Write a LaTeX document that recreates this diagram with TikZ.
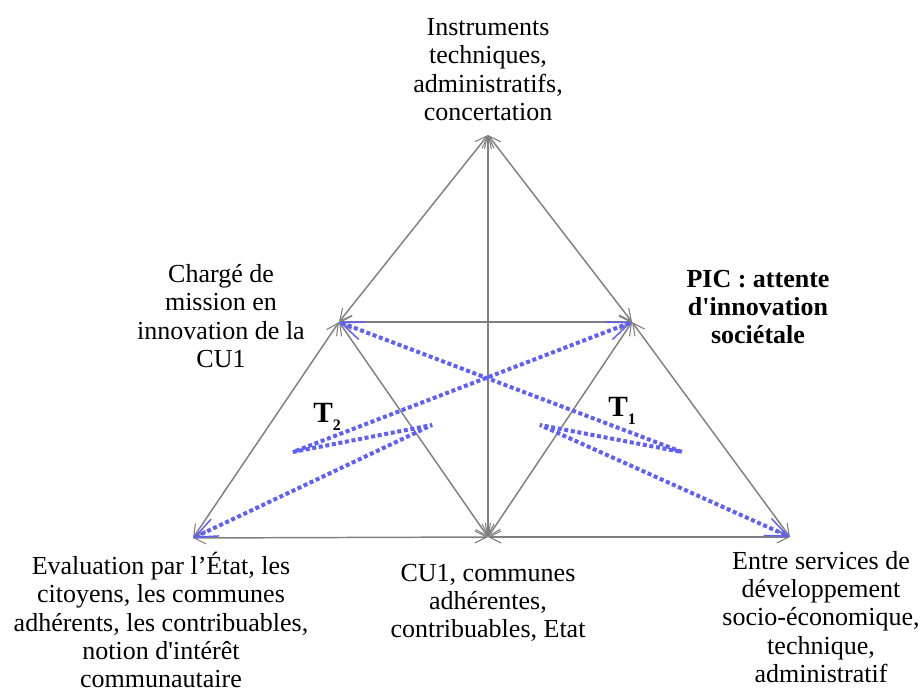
\documentclass[tikz,border=0pt]{standalone}
\usepackage{fontspec}
\setmainfont{Liberation Serif}
\usepackage{xcolor}
\usetikzlibrary{arrows.meta}

\definecolor{lien}{RGB}{128,128,128}
\definecolor{trajet}{RGB}{95,95,250}

\tikzset{
  pole/.style={align=center, inner sep=0pt, font=\fontsize{19.5}{21.2}\selectfont},
  lien/.style={draw=lien, line width=1.1pt, {Straight Barb[length=9pt,width=9pt,line width=0.8pt]}-{Straight Barb[length=9pt,width=9pt,line width=0.8pt]}},
  trajet/.style={draw=trajet, line width=3pt, line join=bevel, dash pattern=on 3pt off 2pt, {Straight Barb[length=17pt,width=14pt,line width=1.1pt]}-{Straight Barb[length=17pt,width=14pt,line width=1.1pt]}},
  etiq/.style={inner sep=0pt, font=\fontsize{22}{24}\selectfont\bfseries}
}
\newcommand{\indice}[1]{\raisebox{-6.5pt}{\fontsize{12}{14}\selectfont #1}}

\begin{document}
\begin{tikzpicture}[x=0.75pt,y=0.75pt,yscale=-1,xscale=1]
\useasboundingbox (0,0) rectangle (923,695);

% sommets du triangle
\coordinate (haut) at (488,135);
\coordinate (milG) at (339,322);
\coordinate (milD) at (632,322);
\coordinate (basG) at (193,538);
\coordinate (basM) at (488,537);
\coordinate (basD) at (790,537);

% points de rebroussement des trajets
\coordinate (t2a) at (293,452);
\coordinate (t2b) at (432,425);
\coordinate (t1a) at (682,452);
\coordinate (t1b) at (540,425);

% liens gris
\draw [lien] (haut) -- (milG);
\draw [lien] (haut) -- (milD);
\draw [lien] (haut) -- (basM);
\draw [lien] (milG) -- (milD);
\draw [lien] (milG) -- (basG);
\draw [lien] (milG) -- (basM);
\draw [lien] (milD) -- (basM);
\draw [lien] (milD) -- (basD);
\draw [lien] (basG) -- (basM);
\draw [lien] (basD) -- (basM);

% trajets T1 et T2
\draw [trajet] (milD) -- (t2a) -- (t2b) -- (basG);
\draw [trajet] (milG) -- (t1a) -- (t1b) -- (basD);

% Text Node
\node [pole, anchor=south] (instr) at (488,121) {Instruments\\techniques,\\administratifs,\\concertation};
% Text Node
\node [pole] (charge) at (221,316) {Chargé de\\mission en\\innovation de la\\CU1};
% Text Node
\node [pole, font=\fontsize{19.5}{21.2}\selectfont\bfseries] (pic) at (758,307) {PIC : attente\\d\textquotesingle innovation\\sociétale};
% Text Node
\node [pole] (eval) at (161,620) {Evaluation par l’État, les\\citoyens, les communes\\adhérents, les contribuables,\\notion d\textquotesingle intérêt\\communautaire};
% Text Node
\node [pole] (cu) at (488,603) {CU1, communes\\adhérentes,\\contribuables, Etat};
% Text Node
\node [pole] (serv) at (821,617) {Entre services de\\développement\\socio-économique,\\technique,\\administratif};

% Text Node
\node [etiq, anchor=base west] (tdeux) at (313,422) {T\indice{2}};
% Text Node
\node [etiq, anchor=base west] (tun) at (608,416) {T\indice{1}};
\end{tikzpicture}
\end{document}
